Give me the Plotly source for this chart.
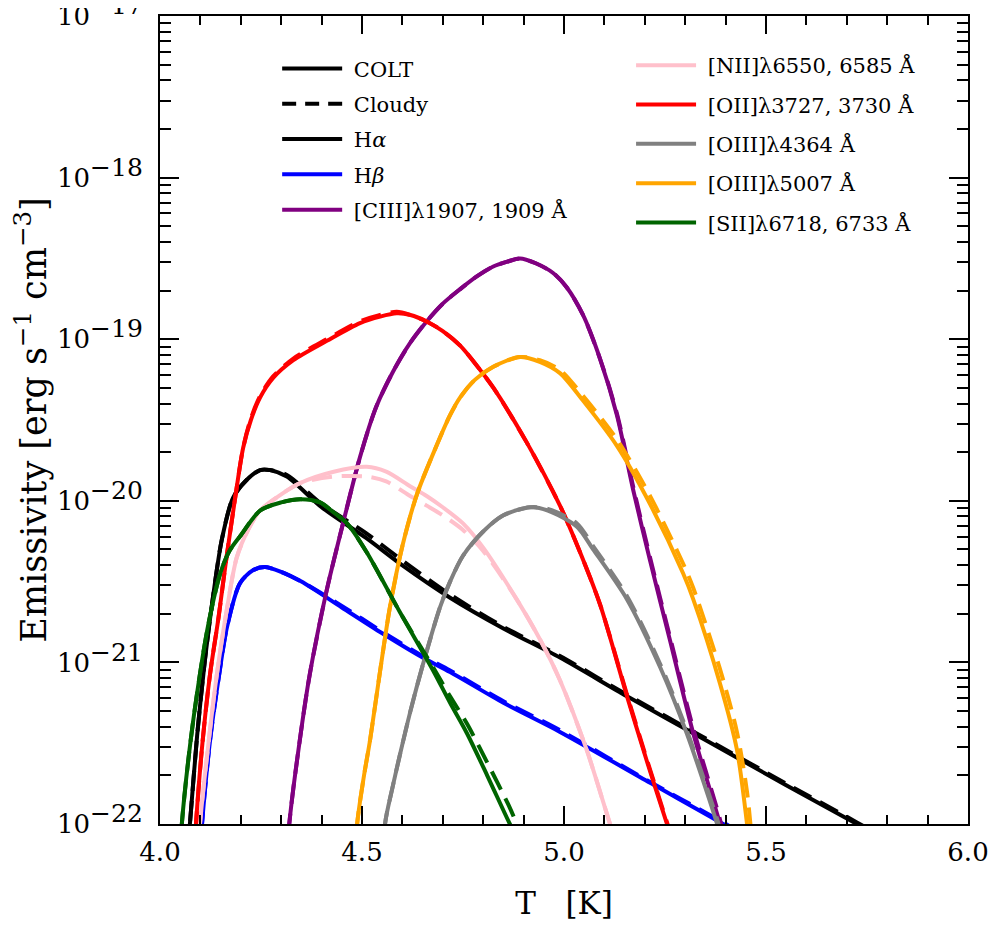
import plotly.graph_objects as go

# log10(T) and log10(emissivity)
ha_x = [4.062, 4.074, 4.092, 4.111, 4.132, 4.153, 4.181, 4.215, 4.248, 4.272, 4.314, 4.40, 4.51, 4.60, 4.718, 4.85, 4.99, 5.156, 5.35, 5.55, 5.725, 5.76]
ha_colt = [-22.35, -22.0, -21.45, -20.99, -20.58, -20.24, -19.98, -19.87, -19.81, -19.81, -19.85, -20.04, -20.23, -20.40, -20.60, -20.79, -20.97, -21.21, -21.48, -21.76, -22.0, -22.05]
ha_cloudy = [-22.35, -22.0, -21.45, -20.99, -20.58, -20.24, -19.98, -19.87, -19.81, -19.81, -19.84, -20.02, -20.20, -20.37, -20.58, -20.78, -20.96, -21.20, -21.47, -21.75, -21.99, -22.04]

hb_x = [4.09, 4.104, 4.124, 4.145, 4.166, 4.198, 4.23, 4.26, 4.30, 4.35, 4.45, 4.55, 4.65, 4.718, 4.85, 4.99, 5.213, 5.394, 5.42]
hb_colt = [-22.6, -22.0, -21.48, -21.10, -20.78, -20.51, -20.43, -20.41, -20.44, -20.50, -20.66, -20.82, -20.97, -21.06, -21.25, -21.43, -21.745, -22.0, -22.04]
hb_cloudy = [-22.6, -22.0, -21.48, -21.10, -20.78, -20.51, -20.43, -20.41, -20.44, -20.50, -20.65, -20.81, -20.96, -21.05, -21.24, -21.42, -21.74, -21.99, -22.03]

c3_x = [4.30, 4.32, 4.345, 4.371, 4.413, 4.453, 4.495, 4.535, 4.577, 4.62, 4.66, 4.70, 4.743, 4.785, 4.825, 4.86, 4.891, 4.93, 4.973, 5.007, 5.047, 5.089, 5.131, 5.171, 5.213, 5.262, 5.32, 5.386, 5.40]
c3_colt = [-22.8, -22.0, -21.5, -21.07, -20.55, -20.14, -19.73, -19.42, -19.20, -19.02, -18.89, -18.78, -18.69, -18.61, -18.55, -18.52, -18.50, -18.53, -18.59, -18.68, -18.85, -19.12, -19.47, -19.93, -20.37, -20.86, -21.44, -22.0, -22.15]
c3_cloudy = [-22.8, -22.0, -21.5, -21.07, -20.55, -20.14, -19.73, -19.42, -19.20, -19.02, -18.89, -18.78, -18.69, -18.61, -18.55, -18.52, -18.50, -18.53, -18.59, -18.68, -18.85, -19.12, -19.46, -19.91, -20.35, -20.84, -21.41, -21.97, -22.12]

o2_x = [4.075, 4.089, 4.105, 4.124, 4.145, 4.163, 4.185, 4.206, 4.225, 4.248, 4.28, 4.33, 4.413, 4.495, 4.545, 4.586, 4.62, 4.66, 4.70, 4.743, 4.78, 4.825, 4.908, 4.99, 5.04, 5.089, 5.156, 5.205, 5.255, 5.27]
o2_colt = [-22.6, -22.0, -21.5, -21.07, -20.72, -20.38, -20.0, -19.67, -19.50, -19.36, -19.24, -19.13, -19.01, -18.90, -18.86, -18.84, -18.85, -18.89, -18.95, -19.04, -19.15, -19.30, -19.64, -20.03, -20.32, -20.64, -21.21, -21.61, -22.0, -22.12]
o2_cloudy = [-22.6, -22.0, -21.5, -21.07, -20.72, -20.38, -20.0, -19.67, -19.49, -19.35, -19.23, -19.12, -19.00, -18.89, -18.85, -18.83, -18.85, -18.89, -18.95, -19.04, -19.15, -19.30, -19.64, -20.03, -20.32, -20.64, -21.20, -21.60, -21.99, -22.11]

n2_x = [4.085, 4.099, 4.12, 4.141, 4.165, 4.19, 4.22, 4.248, 4.30, 4.347, 4.43, 4.512, 4.56, 4.619, 4.66, 4.70, 4.75, 4.80, 4.883, 4.941, 4.99, 5.056, 5.114, 5.13]
n2_colt = [-22.6, -22.0, -21.5, -21.07, -20.68, -20.35, -20.17, -20.06, -19.96, -19.89, -19.82, -19.79, -19.82, -19.91, -19.97, -20.04, -20.14, -20.29, -20.61, -20.86, -21.11, -21.54, -22.0, -22.12]
n2_cloudy = [-22.6, -22.0, -21.5, -21.07, -20.68, -20.35, -20.17, -20.06, -19.96, -19.89, -19.85, -19.85, -19.88, -19.97, -20.03, -20.09, -20.18, -20.31, -20.61, -20.86, -21.11, -21.54, -22.0, -22.12]

o3a_x = [4.545, 4.557, 4.575, 4.594, 4.62, 4.65, 4.693, 4.718, 4.75, 4.80, 4.85, 4.916, 4.96, 5.032, 5.072, 5.156, 5.238, 5.304, 5.379, 5.39]
o3a_colt = [-22.6, -22.0, -21.78, -21.57, -21.30, -21.02, -20.66, -20.50, -20.34, -20.19, -20.09, -20.04, -20.06, -20.16, -20.30, -20.61, -21.03, -21.44, -22.0, -22.1]
o3a_cloudy = [-22.6, -22.0, -21.78, -21.57, -21.30, -21.02, -20.66, -20.50, -20.34, -20.19, -20.09, -20.04, -20.05, -20.14, -20.28, -20.59, -21.01, -21.42, -21.97, -22.07]

o3b_x = [4.475, 4.488, 4.505, 4.52, 4.545, 4.569, 4.60, 4.636, 4.686, 4.718, 4.743, 4.78, 4.825, 4.891, 4.94, 4.99, 5.047, 5.131, 5.213, 5.295, 5.32, 5.386, 5.428, 5.453, 5.465]
o3b_colt = [-22.6, -22.0, -21.7, -21.48, -21.05, -20.66, -20.28, -19.96, -19.65, -19.47, -19.36, -19.25, -19.17, -19.11, -19.14, -19.21, -19.38, -19.66, -20.02, -20.45, -20.61, -21.13, -21.54, -22.0, -22.3]
o3b_cloudy = [-22.6, -22.0, -21.7, -21.48, -21.05, -20.66, -20.28, -19.96, -19.65, -19.47, -19.36, -19.25, -19.17, -19.11, -19.13, -19.19, -19.35, -19.62, -19.97, -20.39, -20.54, -21.04, -21.43, -21.80, -22.1]

s2_x = [4.04, 4.054, 4.075, 4.099, 4.12, 4.149, 4.172, 4.198, 4.248, 4.30, 4.347, 4.396, 4.429, 4.463, 4.512, 4.594, 4.676, 4.718, 4.76, 4.81, 4.866, 4.883, 4.90]
s2_colt = [-22.6, -22.0, -21.5, -21.07, -20.76, -20.45, -20.31, -20.22, -20.06, -20.01, -19.99, -20.01, -20.07, -20.14, -20.32, -20.69, -21.05, -21.25, -21.44, -21.70, -22.0, -22.08, -22.2]
s2_cloudy = [-22.6, -22.0, -21.5, -21.07, -20.76, -20.45, -20.31, -20.22, -20.06, -20.01, -19.99, -20.01, -20.07, -20.14, -20.32, -20.69, -21.03, -21.21, -21.38, -21.62, -21.90, -22.0, -22.1]

lines = [
    ("H<i>α</i>", "black", ha_x, ha_colt, ha_cloudy),
    ("H<i>β</i>", "blue", hb_x, hb_colt, hb_cloudy),
    ("[CIII]λ1907, 1909 Å", "purple", c3_x, c3_colt, c3_cloudy),
    ("[NII]λ6550, 6585 Å", "pink", n2_x, n2_colt, n2_cloudy),
    ("[OII]λ3727, 3730 Å", "red", o2_x, o2_colt, o2_cloudy),
    ("[OIII]λ4364 Å", "gray", o3a_x, o3a_colt, o3a_cloudy),
    ("[OIII]λ5007 Å", "orange", o3b_x, o3b_colt, o3b_cloudy),
    ("[SII]λ6718, 6733 Å", "darkgreen", s2_x, s2_colt, s2_cloudy),
]

FONT = "DejaVu Serif"
LW = 4
DASH = "20px,10px"

fig = go.Figure()

for name, col, x, colt, cloudy in lines:
    fig.add_scatter(x=x, y=[10 ** v for v in colt], mode="lines",
                    line=dict(color=col, width=LW, shape="spline", smoothing=0.8),
                    showlegend=False, hoverinfo="skip")
    fig.add_scatter(x=x, y=[10 ** v for v in cloudy], mode="lines",
                    line=dict(color=col, width=LW, dash=DASH, shape="spline", smoothing=0.8),
                    showlegend=False, hoverinfo="skip")

# legend entries
fig.add_scatter(x=[None], y=[None], mode="lines", name="\u00a0COLT",
                line=dict(color="black", width=LW), legend="legend", legendgroup="a")
fig.add_scatter(x=[None], y=[None], mode="lines", name="\u00a0Cloudy",
                line=dict(color="black", width=LW, dash="14px,9px"), legend="legend", legendgroup="b")
for i, (name, col, x, colt, cloudy) in enumerate(lines):
    fig.add_scatter(x=[None], y=[None], mode="lines", name="\u00a0" + name,
                    line=dict(color=col, width=LW),
                    legend="legend" if i < 3 else "legend2", legendgroup="g%d" % i)

decades = [-22, -21, -20, -19, -18, -17]
ytick_text = ["10<sup><span style='font-size:25px'>\u2212%d</span></sup>" % (-d) for d in decades]
minor_y = [m * 10.0 ** d for d in decades[:-1] for m in range(2, 10)]

axis_common = dict(showline=True, linewidth=2, linecolor="black", mirror="ticks",
                   ticks="inside", tickwidth=1.5, tickcolor="black",
                   showgrid=False, zeroline=False, automargin=False)

fig.update_xaxes(range=[4.0, 6.0], tick0=4.0, dtick=0.5, tickformat=".1f", ticklen=18,
                 minor=dict(dtick=0.1, ticks="inside", ticklen=9, tickwidth=1.5, tickcolor="black", showgrid=False),
                 title=dict(text="T\u00a0\u00a0 [K]", font=dict(size=31), standoff=26),
                 ticklabelstandoff=4, tickfont=dict(size=26), **axis_common)
fig.update_yaxes(type="log", range=[-22, -16.9999], tickmode="array",
                 tickvals=[10.0 ** d for d in decades], ticktext=ytick_text, ticklen=19,
                 minor=dict(tickmode="array", tickvals=minor_y, ticks="inside", ticklen=11,
                            tickwidth=1.5, tickcolor="black", showgrid=False),
                 title=dict(text="Emissivity [erg s<sup>\u22121</sup> cm<sup>\u22123</sup>]",
                            font=dict(size=35), standoff=8),
                 ticklabelstandoff=10, ticklabeloverflow="allow", tickfont=dict(size=26), **axis_common)

leg = dict(font=dict(family=FONT, size=21, color="black"), bgcolor="rgba(0,0,0,0)",
           itemwidth=60, yanchor="top", xanchor="left")
fig.update_layout(
    width=997, height=928,
    # page body adds 8px, so shift the plot area up/left by that much
    margin=dict(l=152, r=37, t=8, b=112),
    plot_bgcolor="white", paper_bgcolor="white",
    font=dict(family=FONT, color="black"),
    legend=dict(x=0.145, y=0.96, tracegroupgap=5, **leg),
    legend2=dict(x=0.583, y=0.964, tracegroupgap=9, **leg),
)

fig.write_html("out.html")
